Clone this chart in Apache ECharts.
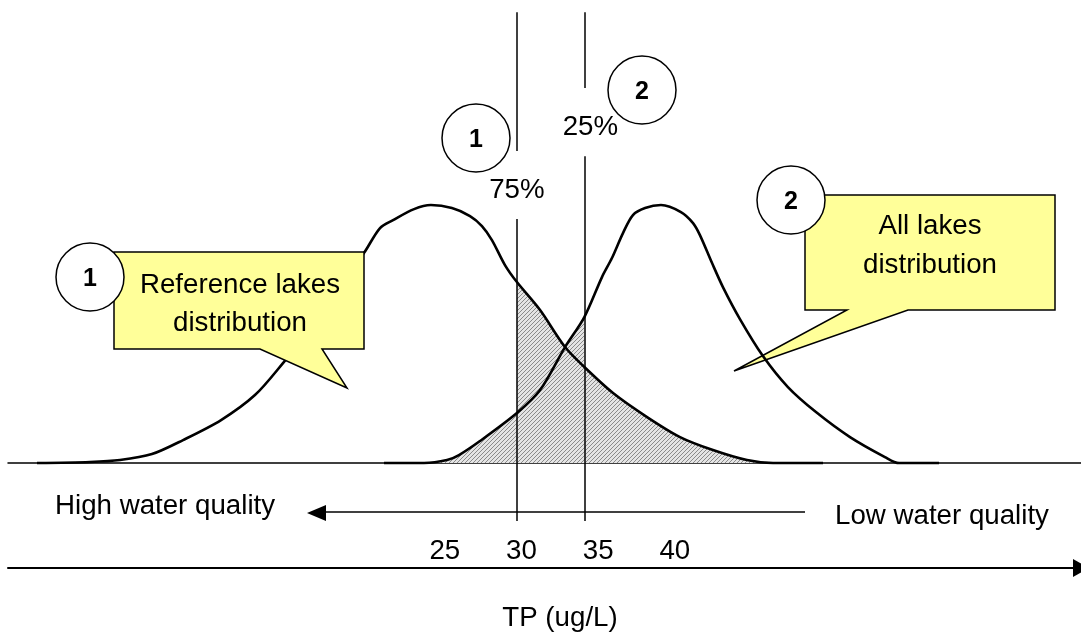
<!DOCTYPE html>
<html><head><meta charset="utf-8">
<script src="https://cdn.jsdelivr.net/npm/echarts@6/dist/echarts.min.js"></script>
<style>html,body{margin:0;padding:0;background:#fff}#c{width:1081px;height:635px}</style>
</head><body><div id="c"></div>
<script>
// ---- data (TP in ug/L on x, relative frequency in % of peak-ish units on y) ----
const tickLabels = [25, 30, 35, 40];
const refLakesX = [-1.61, 1.85, 3.81, 5.89, 7.92, 10.40, 12.61, 14.44, 15.88, 17.18, 18.48, 19.72, 20.77, 21.62, 22.99, 24.09, 25.46, 26.64, 27.42, 28.07, 28.92, 29.70, 31.21, 32.84, 34.10, 35.97, 38.19, 40.34, 42.49, 44.71, 46.41, 49.67];
const refLakesY = [0, 0.38, 1.14, 3.43, 8.77, 16.39, 25.92, 38.12, 48.79, 60.23, 70.52, 80.05, 89.58, 92.63, 96.82, 98.35, 97.21, 94.16, 90.35, 85.01, 75.48, 69.00, 58.32, 44.22, 36.60, 26.69, 17.54, 9.91, 4.96, 1.14, 0, 0];
const allLakesX = [21.03, 23.64, 25.14, 25.92, 27.29, 29.70, 31.21, 32.84, 34.10, 35.25, 35.90, 36.62, 37.27, 38.06, 39.10, 40.40, 41.19, 41.64, 42.43, 43.14, 44.25, 45.75, 47.38, 49.21, 51.43, 53.71, 54.63, 57.24];
const allLakesY = [0, 0, 1.14, 3.05, 8.39, 19.06, 27.83, 44.22, 55.66, 70.90, 78.15, 87.68, 94.54, 97.21, 98.35, 95.68, 91.49, 86.91, 76.24, 67.09, 54.89, 40.79, 28.97, 19.44, 9.91, 2.29, 0, 0];
const percentileX = [29.7, 34.1];
const percentileLabels = ['75%', '25%'];
const axisTitle = 'TP (ug/L)';

const FF = '"Liberation Sans", Arial, Helvetica, sans-serif';
const FS = 27.7;
const ref = refLakesX.map((x, i) => [x, refLakesY[i]]);
const all = allLakesX.map((x, i) => [x, allLakesY[i]]);
const refShade = ref.filter(p => p[0] >= percentileX[0]);
const allShade = all.filter(p => p[0] <= percentileX[1]);

// hatch pattern
const pat = document.createElement('canvas'); pat.width = 4; pat.height = 4;
const pc = pat.getContext('2d');
pc.fillStyle = '#e4e4e4'; pc.fillRect(0, 0, 4, 4);
pc.fillStyle = '#8a8a8a';
for (let i = 0; i < 4; i++) pc.fillRect(i, 3 - i, 1, 1);
const hatch = { image: pat, repeat: 'repeat' };

const chart = echarts.init(document.getElementById('c'), null, { renderer: 'canvas' });
const lineStyleV = { color: '#000', width: 1.5, type: 'solid' };
const txt = (t, x, y, opts) => Object.assign({ type: 'text', z: 100, x: x, y: y,
  style: { text: t, font: FS + 'px ' + FF, fill: '#000', align: 'center', verticalAlign: 'middle' } }, opts || {});
const option = {
  animation: false,
  backgroundColor: '#fff',
  textStyle: { fontFamily: FF },
  grid: { left: 8, right: 0, top: 4, bottom: 67, outerBoundsMode: 'none', containLabel: false },
  xAxis: [
    { type: 'value', min: -3.5, max: 66.5, position: 'top',
      axisLine: { show: true, onZero: true, lineStyle: { color: '#000', width: 1.5 } },
      axisTick: { show: false }, axisLabel: { show: false }, splitLine: { show: false } },
    { type: 'value', min: -3.5, max: 66.5, position: 'bottom',
      axisLine: { show: true, onZero: false, symbol: ['none', 'triangle'], symbolSize: [18, 16],
        lineStyle: { color: '#000', width: 2 } },
      axisTick: { show: false }, splitLine: { show: false },
      axisLabel: { show: true, inside: true, margin: 3, customValues: tickLabels,
        color: '#000', fontSize: FS, fontFamily: FF },
      name: axisTitle, nameLocation: 'middle', nameGap: 36,
      nameTextStyle: { color: '#000', fontSize: FS, fontFamily: FF, padding: [0, 0, 0, 31] } }
  ],
  yAxis: { type: 'value', min: -40, max: 175, show: false, splitLine: { show: false } },
  series: [
    { type: 'line', xAxisIndex: 0, data: refShade, symbol: 'none', smooth: 0.3, z: 2,
      lineStyle: { width: 0 }, areaStyle: { color: hatch, opacity: 1 }, silent: true },
    { type: 'line', xAxisIndex: 0, data: allShade, symbol: 'none', smooth: 0.3, z: 2,
      lineStyle: { width: 0 }, areaStyle: { color: hatch, opacity: 1 }, silent: true },
    { type: 'line', name: 'Reference lakes', xAxisIndex: 0, data: ref, symbol: 'none', smooth: 0.3, z: 4,
      lineStyle: { color: '#000', width: 2.6 },
      markLine: { silent: true, symbol: ['none', 'none'], lineStyle: lineStyleV, animation: false,
        data: [
          [{ coord: [percentileX[0], 171.9] }, { coord: [percentileX[0], 119] }],
          [{ coord: [percentileX[0], 93], label: { show: true, position: 'start', distance: 15, formatter: percentileLabels[0],
              color: '#000', fontSize: FS, fontFamily: FF } }, { coord: [percentileX[0], -22.1] }],
          [{ coord: [percentileX[1], 171.9] }, { coord: [percentileX[1], 142.95] }],
          [{ coord: [percentileX[1], 117], label: { show: true, position: 'start', distance: 15, formatter: percentileLabels[1],
              color: '#000', fontSize: FS, fontFamily: FF, padding: [0, 0, 0, 12] } }, { coord: [percentileX[1], -22.1] }]
        ],
        label: { show: false } } },
    { type: 'line', name: 'All lakes', xAxisIndex: 0, data: all, symbol: 'none', smooth: 0.3, z: 4,
      lineStyle: { color: '#000', width: 2.6 } }
  ],
  graphic: [
    // callout 2 (behind curves)
    { type: 'polygon', z: 1, shape: { points: [[805,195],[1055,195],[1055,310],[908,310],[734,371],[847,310],[805,310]] },
      style: { fill: '#ffff99', stroke: '#000', lineWidth: 1.5 } },
    txt('All lakes', 930, 226),
    txt('distribution', 930, 265),
    // callout 1 (above curve)
    { type: 'polygon', z: 50, shape: { points: [[114,252],[364,252],[364,349],[322,349],[347,388],[260,349],[114,349]] },
      style: { fill: '#ffff99', stroke: '#000', lineWidth: 1.5 } },
    txt('Reference lakes', 240, 285),
    txt('distribution', 240, 323),
    // numbered circles
    { type: 'circle', z: 90, shape: { cx: 90, cy: 277, r: 34 }, style: { fill: '#fff', stroke: '#000', lineWidth: 1.5 } },
    { type: 'text', z: 100, x: 90, y: 279, style: { text: '1', font: 'bold 25px ' + FF, fill: '#000', align: 'center', verticalAlign: 'middle' } },
    { type: 'circle', z: 90, shape: { cx: 476, cy: 138, r: 34 }, style: { fill: '#fff', stroke: '#000', lineWidth: 1.5 } },
    { type: 'text', z: 100, x: 476, y: 140, style: { text: '1', font: 'bold 25px ' + FF, fill: '#000', align: 'center', verticalAlign: 'middle' } },
    { type: 'circle', z: 90, shape: { cx: 642, cy: 90, r: 34 }, style: { fill: '#fff', stroke: '#000', lineWidth: 1.5 } },
    { type: 'text', z: 100, x: 642, y: 92, style: { text: '2', font: 'bold 25px ' + FF, fill: '#000', align: 'center', verticalAlign: 'middle' } },
    { type: 'circle', z: 90, shape: { cx: 791, cy: 200, r: 34 }, style: { fill: '#fff', stroke: '#000', lineWidth: 1.5 } },
    { type: 'text', z: 100, x: 791, y: 202, style: { text: '2', font: 'bold 25px ' + FF, fill: '#000', align: 'center', verticalAlign: 'middle' } },
    // water quality arrow
    { type: 'line', z: 5, shape: { x1: 322, y1: 512, x2: 805, y2: 512 }, style: { stroke: '#000', lineWidth: 1.5 } },
    { type: 'polygon', z: 5, shape: { points: [[307,513],[326,505],[326,521]] }, style: { fill: '#000' } },
    txt('High water quality', 55, 506, { style: { text: 'High water quality', font: FS + 'px ' + FF, fill: '#000', align: 'left', verticalAlign: 'middle' } }),
    txt('Low water quality', 835, 516, { style: { text: 'Low water quality', font: FS + 'px ' + FF, fill: '#000', align: 'left', verticalAlign: 'middle' } })
  ]
};
chart.setOption(option);
</script></body></html>
